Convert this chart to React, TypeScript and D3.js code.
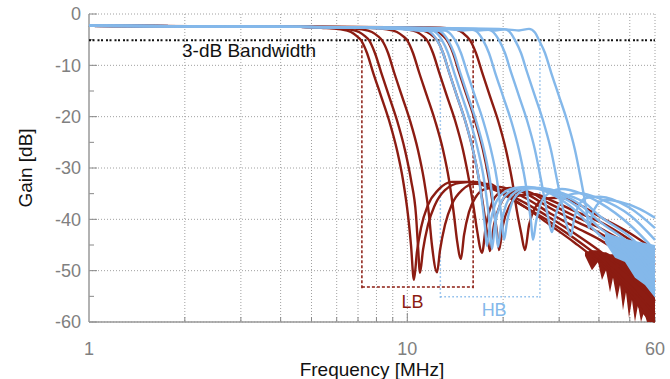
import React from "react";
import * as d3 from "d3";

const RED = "#8c1c12";
const BLUE = "#84b8ea";
const GRID = "#a0a0a0";
const TICK_TEXT = "#808080";

// low-band (LB) filter responses, [MHz, dB]
const lb0 = [[1, -2.3], [4.6, -2.5], [5.36, -2.7], [6.18, -3.0], [6.65, -3.5], [6.94, -4.3], [7.15, -5.1], [7.47, -7.6], [7.8, -11.3], [8.27, -16.0], [8.76, -20.7], [9.28, -26.5], [9.69, -32.3], [10.05, -39.2], [10.27, -45.0], [10.49, -51.8], [10.72, -46.4], [11.04, -41.7], [11.61, -37.2], [12.49, -34.3], [13.82, -32.7], [15.73, -32.7], [18.18, -33.9], [19.55, -34.7], [23.43, -37.6], [28.07, -41.1], [33.63, -44.6], [40.3, -48.5], [50.06, -54.5], [57.85, -59.5], [60, -60]];
const lb1 = [[1, -2.3], [4.6, -2.5], [5.68, -2.7], [6.56, -3.0], [7.05, -3.5], [7.36, -4.3], [7.58, -5.1], [7.91, -7.6], [8.27, -11.3], [8.76, -16.0], [9.28, -20.7], [9.83, -26.5], [10.27, -32.3], [10.65, -39.2], [10.8, -45.0], [10.96, -50.4], [11.2, -46.0], [11.61, -41.1], [12.21, -37.2], [13.13, -34.3], [14.64, -32.9], [16.31, -32.7], [18.18, -33.5], [19.55, -34.7], [23.43, -37.6], [28.07, -40.5], [33.63, -43.8], [40.3, -47.5], [50.06, -53.0], [60, -58.5]];
const lb2 = [[1, -2.3], [4.6, -2.5], [6.23, -2.7], [7.2, -3.0], [7.74, -3.5], [8.08, -4.3], [8.32, -5.1], [8.7, -7.6], [9.08, -11.3], [9.62, -16.0], [10.19, -20.7], [10.8, -26.5], [11.28, -32.3], [11.7, -39.2], [11.95, -45.0], [12.4, -50.3], [12.67, -46.0], [13.13, -41.1], [13.82, -37.0], [14.85, -34.3], [16.31, -33.1], [18.18, -33.1], [19.55, -34.3], [23.43, -36.8], [28.07, -39.7], [33.63, -42.8], [40.3, -46.2], [50.06, -51.0], [60, -56.0]];
const lb3 = [[1, -2.3], [4.6, -2.5], [7.47, -2.7], [8.63, -3.0], [9.28, -3.5], [9.69, -4.3], [9.98, -5.1], [10.42, -7.6], [10.88, -11.3], [11.53, -16.0], [12.21, -20.7], [12.95, -26.5], [13.52, -32.3], [14.02, -39.2], [14.32, -44.0], [14.74, -47.7], [15.07, -43.1], [15.62, -38.6], [16.43, -35.6], [17.54, -34.1], [19.55, -33.7], [23.43, -35.8], [28.07, -38.8], [33.63, -41.5], [40.3, -44.0], [50.06, -47.9], [60, -52.2]];
const lb4 = [[1, -2.3], [4.6, -2.5], [8.63, -2.7], [9.97, -3.0], [10.72, -3.5], [11.2, -4.3], [11.53, -5.1], [12.04, -7.6], [12.58, -11.3], [13.32, -16.0], [14.12, -20.7], [14.96, -26.5], [15.62, -32.3], [16.19, -38.0], [16.55, -42.0], [17.17, -46.5], [17.67, -41.1], [18.45, -36.8], [19.55, -34.7], [21.02, -33.9], [23.43, -34.9], [28.07, -37.8], [33.63, -40.3], [40.3, -42.7], [50.06, -46.4], [60, -50.3]];
const lb5 = [[1, -2.3], [4.6, -2.5], [9.28, -2.7], [10.73, -3.0], [11.53, -3.5], [12.04, -4.3], [12.4, -5.1], [12.95, -7.6], [13.52, -11.3], [14.32, -16.0], [15.18, -20.7], [16.08, -26.5], [16.8, -32.3], [17.42, -38.5], [17.79, -42.5], [18.18, -46.2], [18.72, -41.1], [19.55, -37.2], [21.02, -34.9], [23.43, -34.5], [28.07, -37.0], [33.63, -39.4], [40.3, -41.7], [50.06, -45.2], [60, -48.9]];
const lb6 = [[1, -2.3], [4.6, -2.5], [9.98, -2.6], [11.52, -2.8], [12.39, -3.3], [12.93, -4.2], [13.32, -5.1], [13.92, -7.6], [14.53, -11.3], [15.4, -16.0], [16.31, -20.7], [17.29, -26.5], [18.05, -32.3], [18.72, -38.5], [19.13, -42.5], [19.41, -46.0], [19.98, -41.1], [21.02, -37.2], [22.59, -35.3], [25.18, -35.1], [28.07, -36.2], [33.63, -38.4], [40.3, -40.5], [50.06, -44.0], [60, -47.5]];
const lb7 = [[1, -2.3], [4.6, -2.5], [11.78, -2.6], [13.61, -2.8], [14.63, -3.3], [15.27, -4.2], [15.73, -5.1], [16.43, -7.6], [17.17, -11.3], [18.18, -16.0], [19.27, -20.7], [20.42, -26.5], [21.33, -32.3], [22.11, -38.5], [22.76, -42.5], [23.43, -46.0], [24.12, -41.1], [25.18, -37.8], [27.07, -36.0], [30.18, -35.8], [34.87, -37.2], [40.3, -39.5], [50.06, -42.7], [60, -46.0]];

// high-band (HB) filter responses, [MHz, dB]
const hb0 = [[1, -2.3], [4.6, -2.5], [9.28, -2.9], [10.72, -3.2], [11.53, -3.2], [12.04, -4.0], [12.4, -5.1], [12.95, -7.6], [13.52, -11.3], [14.32, -16.0], [15.18, -20.7], [16.08, -26.5], [16.8, -32.3], [17.29, -38.0], [17.54, -41.5], [17.79, -45.2], [18.18, -41.1], [18.85, -37.2], [19.98, -34.9], [21.79, -33.9], [23.94, -33.7], [27.07, -34.5], [32.43, -37.4], [40.3, -43.1], [50.06, -47.5], [60, -53.8]];
const hb1 = [[1, -2.3], [4.6, -2.5], [9.62, -2.9], [11.12, -3.2], [11.95, -3.2], [12.49, -4.0], [12.85, -5.1], [13.42, -7.6], [14.02, -11.3], [14.85, -16.0], [15.73, -20.7], [16.67, -26.5], [17.42, -32.3], [17.92, -38.0], [18.18, -41.5], [18.45, -45.8], [18.85, -41.1], [19.55, -37.2], [20.72, -34.9], [22.59, -33.9], [25.18, -33.9], [28.07, -34.7], [33.63, -37.2], [40.3, -41.7], [50.06, -46.0], [60, -51.8]];
const hb2 = [[1, -2.3], [4.6, -2.5], [10.05, -2.9], [11.61, -3.2], [12.49, -3.2], [13.04, -4.0], [13.42, -5.1], [14.02, -7.6], [14.64, -11.3], [15.51, -16.0], [16.43, -20.7], [17.42, -26.5], [18.18, -32.3], [18.72, -38.0], [18.99, -41.5], [19.27, -45.4], [19.7, -41.1], [20.42, -37.2], [21.63, -34.9], [23.6, -33.9], [26.11, -33.9], [29.11, -34.7], [34.37, -36.8], [40.3, -40.5], [50.06, -44.8], [60, -50.3]];
const hb3 = [[1, -2.3], [4.6, -2.5], [10.57, -2.9], [12.21, -3.2], [13.13, -3.2], [13.72, -4.0], [14.12, -5.1], [14.74, -7.6], [15.4, -11.3], [16.31, -16.0], [17.29, -20.7], [18.32, -26.5], [19.13, -32.3], [19.55, -37.0], [19.84, -40.5], [20.13, -44.0], [20.57, -40.5], [21.33, -36.8], [22.59, -34.7], [24.64, -33.9], [27.67, -34.1], [31.29, -35.1], [36.15, -36.8], [40.3, -39.4], [50.06, -43.4], [60, -48.3]];
const hb4 = [[1, -2.3], [4.6, -2.5], [12.95, -2.9], [14.96, -3.2], [16.08, -3.1], [16.8, -3.9], [17.29, -5.1], [18.05, -7.6], [18.85, -11.3], [19.98, -16.0], [21.17, -20.7], [22.43, -26.5], [23.43, -32.3], [24.12, -37.5], [24.47, -40.5], [24.82, -44.0], [25.37, -40.5], [26.3, -36.8], [27.87, -34.9], [30.61, -34.1], [34.87, -34.9], [40.3, -36.8], [50.06, -41.1], [60, -46.0]];
const hb5 = [[1, -2.3], [4.6, -2.5], [14.53, -2.9], [16.8, -3.2], [18.05, -3.1], [18.85, -3.9], [19.41, -5.1], [20.27, -7.6], [21.17, -11.3], [22.43, -16.0], [23.77, -20.7], [25.18, -26.5], [26.3, -32.3], [27.07, -36.5], [27.67, -39.5], [28.48, -42.5], [29.11, -39.7], [30.18, -36.8], [31.97, -35.3], [34.87, -34.9], [40.3, -36.0], [50.06, -39.2], [60, -44.0]];
const hb6 = [[1, -2.3], [4.6, -2.5], [16.31, -2.9], [18.85, -3.2], [20.27, -3.0], [21.17, -3.8], [21.79, -5.1], [22.76, -7.6], [23.77, -11.3], [25.18, -16.0], [26.68, -20.7], [28.27, -26.5], [29.53, -32.3], [30.61, -37.0], [31.51, -40.5], [32.67, -43.2], [33.38, -40.1], [34.62, -37.2], [36.68, -35.8], [40.3, -35.6], [50.06, -37.8], [60, -41.7]];
const hb7 = [[1, -2.3], [4.6, -2.5], [19.41, -2.9], [22.43, -3.2], [24.12, -2.9], [25.18, -3.6], [25.92, -5.1], [27.07, -7.6], [28.27, -11.3], [29.96, -16.0], [31.74, -20.7], [33.63, -26.5], [35.12, -32.3], [36.15, -36.5], [36.68, -39.0], [37.21, -41.7], [38.03, -39.2], [39.43, -37.2], [41.79, -36.2], [46.58, -36.6], [53.82, -38.0], [60, -39.7]];

const lbCurves = [lb0, lb1, lb2, lb3, lb4, lb5, lb6, lb7];
const hbCurves = [hb0, hb1, hb2, hb3, hb4, hb5, hb6, hb7];

// measurement noise near the top of the band
const redNoiseFreq = [36.15, 38.03, 39.72, 40.89, 42.09, 43.33, 44.28, 45.58, 46.58, 47.6, 48.64, 49.71, 50.79, 51.91, 53.05, 54.22, 55.41, 56.62, 57.85, 60];
const redNoiseTop = [-46.4, -46.0, -46.0, -46.4, -46.4, -46.8, -46.8, -47.0, -47.0, -47.1, -47.1, -47.0, -47.0, -46.8, -46.4, -46.0, -45.6, -45.2, -45.2, -45.2];
const redNoiseBottom = [-47.1, -49.9, -48.3, -51.8, -49.9, -54.2, -51.4, -55.7, -52.8, -57.7, -54.2, -59.2, -55.7, -60, -56.7, -60, -58.1, -60, -60, -60];
const blueNoiseFreq = [41.79, 44.92, 48.29, 51.91, 55.8, 60];
const blueNoiseTop = [-42.5, -43.2, -43.8, -44.2, -44.6, -45.0];
const blueNoiseBottom = [-44.5, -47.5, -48.3, -51.4, -52.8, -55.3];

const yTicks = [0, -10, -20, -30, -40, -50, -60];
const yMinor = [-5, -15, -25, -35, -45, -55];
const xGrid = [2, 3, 4, 5, 6, 7, 8, 9, 10, 20, 30, 40, 50, 60];
const xLabels = [1, 10, 60];

const bandwidthDb = -5.1;
const lbRange = [7.2, 16.1];
const hbRange = [12.7, 26.1];

export default function App() {
  const width = 670;
  const height = 379;
  const left = 89;
  const right = 655;
  const top = 14;
  const bottom = 322;

  const x = d3.scaleLog().domain([1, 60]).range([left, right]);
  const y = d3.scaleLinear().domain([-60, 0]).range([bottom, top]);

  const line = d3
    .line()
    .x((d) => x(d[0]))
    .y((d) => y(d[1]))
    .curve(d3.curveMonotoneX);

  const noiseArea = (freq, hi, lo) =>
    d3
      .area()
      .x((d, i) => x(freq[i]))
      .y0((d, i) => y(lo[i]))
      .y1((d, i) => y(hi[i]))(freq);

  const font = "'Liberation Sans', Arial, sans-serif";
  const yBw = y(bandwidthDb);
  const yLb = y(-53.2);
  const yHb = y(-55.1);

  return (
    <svg
      width={width}
      height={height}
      style={{ position: "absolute", left: 0, top: 0, background: "#fff" }}
      fontFamily={font}
    >
      {/* grid */}
      {xGrid.map((v) => (
        <line key={"gx" + v} x1={x(v)} x2={x(v)} y1={top} y2={bottom} stroke={GRID} strokeWidth={1} strokeDasharray="1,2" />
      ))}
      {yTicks.map((v) => (
        <line key={"gy" + v} x1={left} x2={right} y1={y(v)} y2={y(v)} stroke={GRID} strokeWidth={1} strokeDasharray="1,2" />
      ))}

      {/* ticks */}
      {xGrid.map((v) => (
        <line key={"tx" + v} x1={x(v)} x2={x(v)} y1={bottom} y2={bottom - (v === 10 ? 9 : 5)} stroke="#888" strokeWidth={1} />
      ))}
      {yTicks.map((v) => (
        <line key={"ty" + v} x1={left} x2={left + 8} y1={y(v)} y2={y(v)} stroke="#888" strokeWidth={1} />
      ))}
      {yMinor.map((v) => (
        <line key={"tm" + v} x1={left} x2={left + 5} y1={y(v)} y2={y(v)} stroke="#888" strokeWidth={1} />
      ))}

      {/* axes */}
      <line x1={left} x2={left} y1={top} y2={bottom} stroke="#999" strokeWidth={1.5} />
      <line x1={left} x2={right} y1={bottom} y2={bottom} stroke="#999" strokeWidth={1.5} />

      {/* 3-dB bandwidth */}
      <line x1={left} x2={right} y1={yBw} y2={yBw} stroke="#111" strokeWidth={2} strokeDasharray="2,1.5,2,3" />
      <text x={182} y={57} fontSize={19} fill="#111">3-dB Bandwidth</text>

      {/* LB bracket */}
      <g stroke={RED} strokeWidth={1.5} strokeDasharray="3,2" fill="none">
        <line x1={x(lbRange[0])} x2={x(lbRange[0])} y1={yBw} y2={yLb + 3} />
        <line x1={x(lbRange[1])} x2={x(lbRange[1])} y1={yBw} y2={yLb + 3} />
        <line x1={x(lbRange[0])} x2={x(lbRange[1])} y1={yLb} y2={yLb} />
      </g>

      {/* HB bracket */}
      <g stroke={BLUE} strokeWidth={1.5} strokeDasharray="1.5,2.5" fill="none">
        <line x1={x(hbRange[0])} x2={x(hbRange[0])} y1={yBw} y2={yHb + 3} />
        <line x1={x(hbRange[1])} x2={x(hbRange[1])} y1={yBw} y2={yHb + 3} />
        <line x1={x(hbRange[0])} x2={x(hbRange[1])} y1={yHb} y2={yHb} />
      </g>

      {/* LB curves */}
      <path d={noiseArea(redNoiseFreq, redNoiseTop, redNoiseBottom)} fill={RED} />
      {lbCurves.map((c, i) => (
        <path key={"lb" + i} d={line(c)} fill="none" stroke={RED} strokeWidth={2.4} strokeLinejoin="round" />
      ))}

      {/* HB curves */}
      <path d={noiseArea(blueNoiseFreq, blueNoiseTop, blueNoiseBottom)} fill={BLUE} />
      {hbCurves.map((c, i) => (
        <path key={"hb" + i} d={line(c)} fill="none" stroke={BLUE} strokeWidth={2.4} strokeLinejoin="round" />
      ))}

      <text x={(x(lbRange[0]) + x(lbRange[1])) / 2 - 5} y={308} fontSize={18} fill={RED} textAnchor="middle">LB</text>
      <text x={(x(hbRange[0]) + x(hbRange[1])) / 2 + 4} y={316} fontSize={18} fill={BLUE} textAnchor="middle">HB</text>

      {/* tick labels */}
      {yTicks.map((v) => (
        <text key={"ly" + v} x={81} y={y(v)} dy="0.35em" fontSize={18} fill={TICK_TEXT} textAnchor="end">{v}</text>
      ))}
      {xLabels.map((v) => (
        <text key={"lx" + v} x={x(v)} y={355} fontSize={18} fill={TICK_TEXT} textAnchor="middle">{v}</text>
      ))}

      <text x={(left + right) / 2} y={376} fontSize={19} fill="#111" textAnchor="middle">Frequency [MHz]</text>
      <text transform={`translate(32,${(top + bottom) / 2}) rotate(-90)`} fontSize={19} fill="#111" textAnchor="middle">Gain [dB]</text>
    </svg>
  );
}
